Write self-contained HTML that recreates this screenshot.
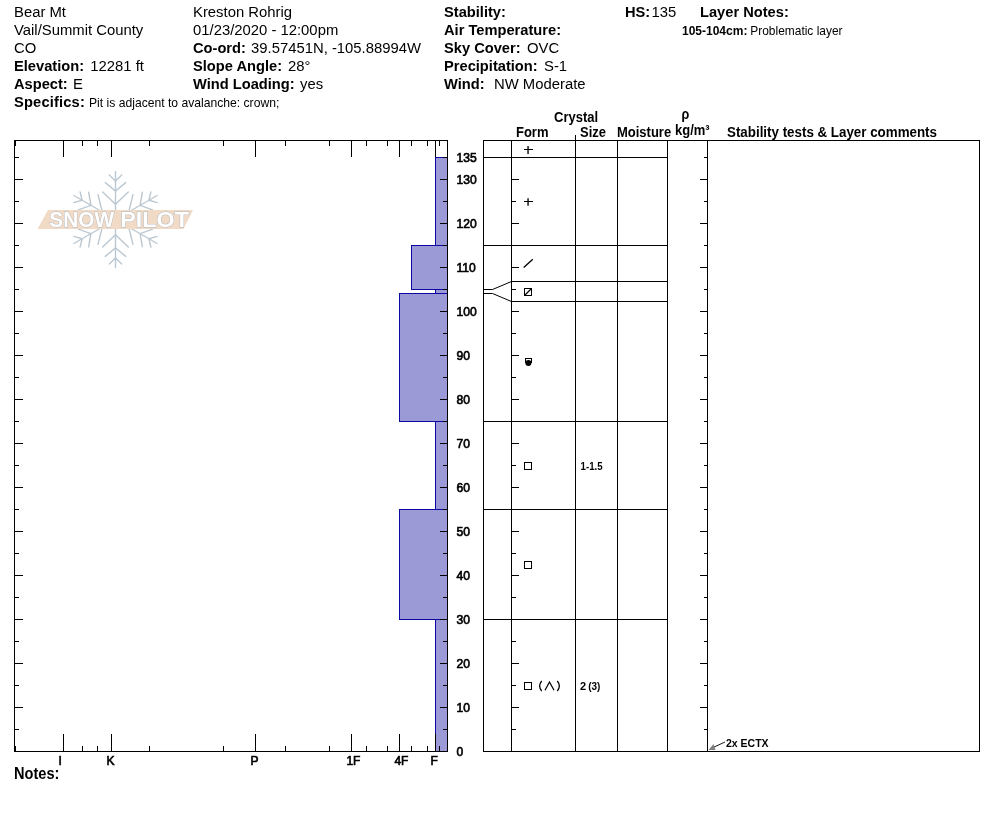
<!DOCTYPE html>
<html><head><meta charset="utf-8"><title>Snow Pit Profile</title>
<style>
html,body{margin:0;padding:0;background:#fff;}
body{width:994px;height:840px;overflow:hidden;position:relative;font-family:"Liberation Sans",sans-serif;color:#000;}
svg{position:absolute;left:0;top:0;display:block;will-change:transform;}
text{font-family:"Liberation Sans",sans-serif;fill:#000;}
.h{font-size:14.85px;}
.b{font-weight:bold;}
.h .b{font-size:14.67px;}
.ax{font-size:14px;font-weight:bold;}
.axl{font-size:13.6px;stroke:#000;stroke-width:0.7px;}
.sm{font-size:11px;}
.n12{font-size:12px;}
.nt{font-size:15.6px;}
.ln{stroke:#000;stroke-width:1;shape-rendering:crispEdges;fill:none;}
</style></head><body>
<svg width="994" height="840" viewBox="0 0 994 840">
<rect x="0" y="0" width="994" height="840" fill="#fff"/>
<text x="14" y="17" class="h" >Bear Mt</text>
<text x="14" y="35" class="h" >Vail/Summit County</text>
<text x="14" y="53" class="h" >CO</text>
<text x="14" y="71" class="h" ><tspan class="b">Elevation:</tspan><tspan x="90.3">12281 ft</tspan></text>
<text x="14" y="89" class="h" ><tspan class="b">Aspect:</tspan><tspan x="73">E</tspan></text>
<text x="14" y="107" class="h" ><tspan class="b" style="letter-spacing:0.17px">Specifics:</tspan><tspan x="89" style="font-size:12.15px">Pit is adjacent to avalanche: crown;</tspan></text>
<text x="193" y="17" class="h" >Kreston Rohrig</text>
<text x="193" y="35" class="h" >01/23/2020 - 12:00pm</text>
<text x="193" y="53" class="h" ><tspan class="b">Co-ord:</tspan><tspan x="251">39.57451N, -105.88994W</tspan></text>
<text x="193" y="71" class="h" ><tspan class="b">Slope Angle:</tspan><tspan x="288">28°</tspan></text>
<text x="193" y="89" class="h" ><tspan class="b">Wind Loading:</tspan><tspan x="300">yes</tspan></text>
<text x="444" y="17" class="h" ><tspan class="b">Stability:</tspan></text>
<text x="444" y="35" class="h" ><tspan class="b">Air Temperature:</tspan></text>
<text x="444" y="53" class="h" ><tspan class="b">Sky Cover:</tspan><tspan x="527">OVC</tspan></text>
<text x="444" y="71" class="h" ><tspan class="b">Precipitation:</tspan><tspan x="544">S-1</tspan></text>
<text x="444" y="89" class="h" ><tspan class="b">Wind:</tspan><tspan x="494">NW Moderate</tspan></text>
<text x="625" y="17" class="h" ><tspan class="b">HS:</tspan><tspan x="651.6">135</tspan></text>
<text x="700" y="17" class="h" ><tspan class="b">Layer Notes:</tspan></text>
<text x="682" y="35" class="n12" ><tspan class="b">105-104cm:</tspan><tspan x="750.3" style="font-size:11.95px">Problematic layer</tspan></text>
<text transform="translate(14 779) scale(0.935 1)" class="b nt">Notes:</text>
<g id="logo">
<g transform="translate(115.5 219.5) rotate(0)" stroke="#bcc8d1" stroke-width="1.4" stroke-linecap="round" fill="none"><line x1="0" y1="-6" x2="0" y2="-48"/><polyline points="-6.2,-44.5 0,-38.5 6.2,-44.5"/><polyline points="-10.2,-36.9 0,-28.4 10.2,-36.9"/><polyline points="-12.8,-27.6 0,-15.3 12.8,-27.6"/></g>
<g transform="translate(115.5 219.5) rotate(60)" stroke="#bcc8d1" stroke-width="1.4" stroke-linecap="round" fill="none"><line x1="0" y1="-6" x2="0" y2="-48"/><polyline points="-6.2,-44.5 0,-38.5 6.2,-44.5"/><polyline points="-10.2,-36.9 0,-28.4 10.2,-36.9"/><polyline points="-12.8,-27.6 0,-15.3 12.8,-27.6"/></g>
<g transform="translate(115.5 219.5) rotate(120)" stroke="#bcc8d1" stroke-width="1.4" stroke-linecap="round" fill="none"><line x1="0" y1="-6" x2="0" y2="-48"/><polyline points="-6.2,-44.5 0,-38.5 6.2,-44.5"/><polyline points="-10.2,-36.9 0,-28.4 10.2,-36.9"/><polyline points="-12.8,-27.6 0,-15.3 12.8,-27.6"/></g>
<g transform="translate(115.5 219.5) rotate(180)" stroke="#bcc8d1" stroke-width="1.4" stroke-linecap="round" fill="none"><line x1="0" y1="-6" x2="0" y2="-48"/><polyline points="-6.2,-44.5 0,-38.5 6.2,-44.5"/><polyline points="-10.2,-36.9 0,-28.4 10.2,-36.9"/><polyline points="-12.8,-27.6 0,-15.3 12.8,-27.6"/></g>
<g transform="translate(115.5 219.5) rotate(240)" stroke="#bcc8d1" stroke-width="1.4" stroke-linecap="round" fill="none"><line x1="0" y1="-6" x2="0" y2="-48"/><polyline points="-6.2,-44.5 0,-38.5 6.2,-44.5"/><polyline points="-10.2,-36.9 0,-28.4 10.2,-36.9"/><polyline points="-12.8,-27.6 0,-15.3 12.8,-27.6"/></g>
<g transform="translate(115.5 219.5) rotate(300)" stroke="#bcc8d1" stroke-width="1.4" stroke-linecap="round" fill="none"><line x1="0" y1="-6" x2="0" y2="-48"/><polyline points="-6.2,-44.5 0,-38.5 6.2,-44.5"/><polyline points="-10.2,-36.9 0,-28.4 10.2,-36.9"/><polyline points="-12.8,-27.6 0,-15.3 12.8,-27.6"/></g>
<polygon points="48,210 193,210 183.5,229 37.5,229" fill="#f1dac6"/>
<g style="font-size:22.3px;font-weight:bold;fill:#fff;stroke:#aeb6bf;stroke-width:0.9px;paint-order:stroke fill;"><text x="49.3" y="227.2" textLength="64.8" lengthAdjust="spacingAndGlyphs" style="fill:#fff">SNOW</text><text x="120.3" y="227.2" textLength="68.6" lengthAdjust="spacingAndGlyphs" style="fill:#fff">PILOT</text></g>
</g>
<rect x="435.5" y="157.5" width="12" height="88.0" fill="#9b9ad6" stroke="#0e08a2" stroke-width="1" shape-rendering="crispEdges"/>
<rect x="411.5" y="245.5" width="36" height="44.0" fill="#9b9ad6" stroke="#0e08a2" stroke-width="1" shape-rendering="crispEdges"/>
<rect x="435.5" y="289.5" width="12" height="4.4" fill="#9b9ad6" stroke="#0e08a2" stroke-width="1" shape-rendering="crispEdges"/>
<rect x="399.5" y="293.9" width="48" height="127.6" fill="#9b9ad6" stroke="#0e08a2" stroke-width="1" shape-rendering="crispEdges"/>
<rect x="435.5" y="421.5" width="12" height="88.0" fill="#9b9ad6" stroke="#0e08a2" stroke-width="1" shape-rendering="crispEdges"/>
<rect x="399.5" y="509.5" width="48" height="110.0" fill="#9b9ad6" stroke="#0e08a2" stroke-width="1" shape-rendering="crispEdges"/>
<rect x="435.5" y="619.5" width="12" height="132.0" fill="#9b9ad6" stroke="#0e08a2" stroke-width="1" shape-rendering="crispEdges"/>
<rect x="14.5" y="140.5" width="433" height="611" class="ln"/>
<line x1="15" y1="729.5" x2="19" y2="729.5" class="ln"/>
<line x1="443" y1="729.5" x2="447" y2="729.5" class="ln"/>
<line x1="15" y1="707.5" x2="23" y2="707.5" class="ln"/>
<line x1="440" y1="707.5" x2="447" y2="707.5" class="ln"/>
<line x1="15" y1="685.5" x2="19" y2="685.5" class="ln"/>
<line x1="443" y1="685.5" x2="447" y2="685.5" class="ln"/>
<line x1="15" y1="663.5" x2="23" y2="663.5" class="ln"/>
<line x1="440" y1="663.5" x2="447" y2="663.5" class="ln"/>
<line x1="15" y1="641.5" x2="19" y2="641.5" class="ln"/>
<line x1="443" y1="641.5" x2="447" y2="641.5" class="ln"/>
<line x1="15" y1="619.5" x2="23" y2="619.5" class="ln"/>
<line x1="440" y1="619.5" x2="447" y2="619.5" class="ln"/>
<line x1="15" y1="597.5" x2="19" y2="597.5" class="ln"/>
<line x1="443" y1="597.5" x2="447" y2="597.5" class="ln"/>
<line x1="15" y1="575.5" x2="23" y2="575.5" class="ln"/>
<line x1="440" y1="575.5" x2="447" y2="575.5" class="ln"/>
<line x1="15" y1="553.5" x2="19" y2="553.5" class="ln"/>
<line x1="443" y1="553.5" x2="447" y2="553.5" class="ln"/>
<line x1="15" y1="531.5" x2="23" y2="531.5" class="ln"/>
<line x1="440" y1="531.5" x2="447" y2="531.5" class="ln"/>
<line x1="15" y1="509.5" x2="19" y2="509.5" class="ln"/>
<line x1="443" y1="509.5" x2="447" y2="509.5" class="ln"/>
<line x1="15" y1="487.5" x2="23" y2="487.5" class="ln"/>
<line x1="440" y1="487.5" x2="447" y2="487.5" class="ln"/>
<line x1="15" y1="465.5" x2="19" y2="465.5" class="ln"/>
<line x1="443" y1="465.5" x2="447" y2="465.5" class="ln"/>
<line x1="15" y1="443.5" x2="23" y2="443.5" class="ln"/>
<line x1="440" y1="443.5" x2="447" y2="443.5" class="ln"/>
<line x1="15" y1="421.5" x2="19" y2="421.5" class="ln"/>
<line x1="443" y1="421.5" x2="447" y2="421.5" class="ln"/>
<line x1="15" y1="399.5" x2="23" y2="399.5" class="ln"/>
<line x1="440" y1="399.5" x2="447" y2="399.5" class="ln"/>
<line x1="15" y1="377.5" x2="19" y2="377.5" class="ln"/>
<line x1="443" y1="377.5" x2="447" y2="377.5" class="ln"/>
<line x1="15" y1="355.5" x2="23" y2="355.5" class="ln"/>
<line x1="440" y1="355.5" x2="447" y2="355.5" class="ln"/>
<line x1="15" y1="333.5" x2="19" y2="333.5" class="ln"/>
<line x1="443" y1="333.5" x2="447" y2="333.5" class="ln"/>
<line x1="15" y1="311.5" x2="23" y2="311.5" class="ln"/>
<line x1="440" y1="311.5" x2="447" y2="311.5" class="ln"/>
<line x1="15" y1="289.5" x2="19" y2="289.5" class="ln"/>
<line x1="443" y1="289.5" x2="447" y2="289.5" class="ln"/>
<line x1="15" y1="267.5" x2="23" y2="267.5" class="ln"/>
<line x1="440" y1="267.5" x2="447" y2="267.5" class="ln"/>
<line x1="15" y1="245.5" x2="19" y2="245.5" class="ln"/>
<line x1="443" y1="245.5" x2="447" y2="245.5" class="ln"/>
<line x1="15" y1="223.5" x2="23" y2="223.5" class="ln"/>
<line x1="440" y1="223.5" x2="447" y2="223.5" class="ln"/>
<line x1="15" y1="201.5" x2="19" y2="201.5" class="ln"/>
<line x1="443" y1="201.5" x2="447" y2="201.5" class="ln"/>
<line x1="15" y1="179.5" x2="23" y2="179.5" class="ln"/>
<line x1="440" y1="179.5" x2="447" y2="179.5" class="ln"/>
<line x1="15" y1="157.5" x2="19" y2="157.5" class="ln"/>
<line x1="443" y1="157.5" x2="447" y2="157.5" class="ln"/>
<line x1="15.5" y1="141" x2="15.5" y2="146" class="ln"/>
<line x1="15.5" y1="746" x2="15.5" y2="751" class="ln"/>
<line x1="63.5" y1="141" x2="63.5" y2="157" class="ln"/>
<line x1="63.5" y1="734" x2="63.5" y2="751" class="ln"/>
<line x1="111.5" y1="141" x2="111.5" y2="157" class="ln"/>
<line x1="111.5" y1="734" x2="111.5" y2="751" class="ln"/>
<line x1="255.5" y1="141" x2="255.5" y2="157" class="ln"/>
<line x1="255.5" y1="734" x2="255.5" y2="751" class="ln"/>
<line x1="351.5" y1="141" x2="351.5" y2="157" class="ln"/>
<line x1="351.5" y1="734" x2="351.5" y2="751" class="ln"/>
<line x1="399.5" y1="141" x2="399.5" y2="157" class="ln"/>
<line x1="399.5" y1="734" x2="399.5" y2="751" class="ln"/>
<line x1="435.5" y1="141" x2="435.5" y2="157" class="ln"/>
<line x1="435.5" y1="734" x2="435.5" y2="751" class="ln"/>
<line x1="82.5" y1="141" x2="82.5" y2="146" class="ln"/>
<line x1="82.5" y1="746" x2="82.5" y2="751" class="ln"/>
<line x1="97.5" y1="141" x2="97.5" y2="146" class="ln"/>
<line x1="97.5" y1="746" x2="97.5" y2="751" class="ln"/>
<line x1="149.5" y1="141" x2="149.5" y2="146" class="ln"/>
<line x1="149.5" y1="746" x2="149.5" y2="751" class="ln"/>
<line x1="223.5" y1="141" x2="223.5" y2="146" class="ln"/>
<line x1="223.5" y1="746" x2="223.5" y2="751" class="ln"/>
<line x1="285.5" y1="141" x2="285.5" y2="146" class="ln"/>
<line x1="285.5" y1="746" x2="285.5" y2="751" class="ln"/>
<line x1="329.5" y1="141" x2="329.5" y2="146" class="ln"/>
<line x1="329.5" y1="746" x2="329.5" y2="751" class="ln"/>
<line x1="366.5" y1="141" x2="366.5" y2="146" class="ln"/>
<line x1="366.5" y1="746" x2="366.5" y2="751" class="ln"/>
<line x1="387.5" y1="141" x2="387.5" y2="146" class="ln"/>
<line x1="387.5" y1="746" x2="387.5" y2="751" class="ln"/>
<line x1="411.5" y1="141" x2="411.5" y2="146" class="ln"/>
<line x1="411.5" y1="746" x2="411.5" y2="751" class="ln"/>
<line x1="427.5" y1="141" x2="427.5" y2="146" class="ln"/>
<line x1="427.5" y1="746" x2="427.5" y2="751" class="ln"/>
<line x1="439.5" y1="141" x2="439.5" y2="146" class="ln"/>
<line x1="439.5" y1="746" x2="439.5" y2="751" class="ln"/>
<text transform="translate(58.4 765) scale(0.885 1)" class="axl">I</text>
<text transform="translate(106.4 765) scale(0.885 1)" class="axl">K</text>
<text transform="translate(250.4 765) scale(0.885 1)" class="axl">P</text>
<text transform="translate(346.4 765) scale(0.885 1)" class="axl">1F</text>
<text transform="translate(394.4 765) scale(0.885 1)" class="axl">4F</text>
<text transform="translate(430.4 765) scale(0.885 1)" class="axl">F</text>
<text transform="translate(456.5 756) scale(0.89 1)" class="axl">0</text>
<text transform="translate(456.5 712) scale(0.89 1)" class="axl">10</text>
<text transform="translate(456.5 668) scale(0.89 1)" class="axl">20</text>
<text transform="translate(456.5 624) scale(0.89 1)" class="axl">30</text>
<text transform="translate(456.5 580) scale(0.89 1)" class="axl">40</text>
<text transform="translate(456.5 536) scale(0.89 1)" class="axl">50</text>
<text transform="translate(456.5 492) scale(0.89 1)" class="axl">60</text>
<text transform="translate(456.5 448) scale(0.89 1)" class="axl">70</text>
<text transform="translate(456.5 404) scale(0.89 1)" class="axl">80</text>
<text transform="translate(456.5 360) scale(0.89 1)" class="axl">90</text>
<text transform="translate(456.5 316) scale(0.89 1)" class="axl">100</text>
<text transform="translate(456.5 272) scale(0.89 1)" class="axl">110</text>
<text transform="translate(456.5 228) scale(0.89 1)" class="axl">120</text>
<text transform="translate(456.5 184) scale(0.89 1)" class="axl">130</text>
<text transform="translate(456.5 162) scale(0.89 1)" class="axl">135</text>
<rect x="483.5" y="140.5" width="496" height="611" class="ln"/>
<line x1="511.5" y1="140" x2="511.5" y2="751" class="ln"/>
<line x1="575.5" y1="135" x2="575.5" y2="751" class="ln"/>
<line x1="617.5" y1="140" x2="617.5" y2="751" class="ln"/>
<line x1="667.5" y1="140" x2="667.5" y2="751" class="ln"/>
<line x1="707.5" y1="140" x2="707.5" y2="751" class="ln"/>
<line x1="483" y1="157.5" x2="667" y2="157.5" class="ln"/>
<line x1="483" y1="245.5" x2="667" y2="245.5" class="ln"/>
<line x1="511" y1="281.5" x2="667" y2="281.5" class="ln"/>
<line x1="511" y1="301.5" x2="667" y2="301.5" class="ln"/>
<line x1="483" y1="421.5" x2="667" y2="421.5" class="ln"/>
<line x1="483" y1="509.5" x2="667" y2="509.5" class="ln"/>
<line x1="483" y1="619.5" x2="667" y2="619.5" class="ln"/>
<polyline points="483.5,289.5 492.5,289.5 511.5,281.5" fill="none" stroke="#000" stroke-width="1"/>
<polyline points="483.5,293.5 492.5,293.5 511.5,301.5" fill="none" stroke="#000" stroke-width="1"/>
<line x1="512" y1="729.5" x2="516" y2="729.5" class="ln"/>
<line x1="704" y1="729.5" x2="707" y2="729.5" class="ln"/>
<line x1="512" y1="707.5" x2="519" y2="707.5" class="ln"/>
<line x1="700" y1="707.5" x2="707" y2="707.5" class="ln"/>
<line x1="512" y1="685.5" x2="516" y2="685.5" class="ln"/>
<line x1="704" y1="685.5" x2="707" y2="685.5" class="ln"/>
<line x1="512" y1="663.5" x2="519" y2="663.5" class="ln"/>
<line x1="700" y1="663.5" x2="707" y2="663.5" class="ln"/>
<line x1="512" y1="641.5" x2="516" y2="641.5" class="ln"/>
<line x1="704" y1="641.5" x2="707" y2="641.5" class="ln"/>
<line x1="512" y1="619.5" x2="519" y2="619.5" class="ln"/>
<line x1="700" y1="619.5" x2="707" y2="619.5" class="ln"/>
<line x1="512" y1="597.5" x2="516" y2="597.5" class="ln"/>
<line x1="704" y1="597.5" x2="707" y2="597.5" class="ln"/>
<line x1="512" y1="575.5" x2="519" y2="575.5" class="ln"/>
<line x1="700" y1="575.5" x2="707" y2="575.5" class="ln"/>
<line x1="512" y1="553.5" x2="516" y2="553.5" class="ln"/>
<line x1="704" y1="553.5" x2="707" y2="553.5" class="ln"/>
<line x1="512" y1="531.5" x2="519" y2="531.5" class="ln"/>
<line x1="700" y1="531.5" x2="707" y2="531.5" class="ln"/>
<line x1="512" y1="509.5" x2="516" y2="509.5" class="ln"/>
<line x1="704" y1="509.5" x2="707" y2="509.5" class="ln"/>
<line x1="512" y1="487.5" x2="519" y2="487.5" class="ln"/>
<line x1="700" y1="487.5" x2="707" y2="487.5" class="ln"/>
<line x1="512" y1="465.5" x2="516" y2="465.5" class="ln"/>
<line x1="704" y1="465.5" x2="707" y2="465.5" class="ln"/>
<line x1="512" y1="443.5" x2="519" y2="443.5" class="ln"/>
<line x1="700" y1="443.5" x2="707" y2="443.5" class="ln"/>
<line x1="512" y1="421.5" x2="516" y2="421.5" class="ln"/>
<line x1="704" y1="421.5" x2="707" y2="421.5" class="ln"/>
<line x1="512" y1="399.5" x2="519" y2="399.5" class="ln"/>
<line x1="700" y1="399.5" x2="707" y2="399.5" class="ln"/>
<line x1="512" y1="377.5" x2="516" y2="377.5" class="ln"/>
<line x1="704" y1="377.5" x2="707" y2="377.5" class="ln"/>
<line x1="512" y1="355.5" x2="519" y2="355.5" class="ln"/>
<line x1="700" y1="355.5" x2="707" y2="355.5" class="ln"/>
<line x1="512" y1="333.5" x2="516" y2="333.5" class="ln"/>
<line x1="704" y1="333.5" x2="707" y2="333.5" class="ln"/>
<line x1="512" y1="311.5" x2="519" y2="311.5" class="ln"/>
<line x1="700" y1="311.5" x2="707" y2="311.5" class="ln"/>
<line x1="512" y1="289.5" x2="516" y2="289.5" class="ln"/>
<line x1="704" y1="289.5" x2="707" y2="289.5" class="ln"/>
<line x1="512" y1="267.5" x2="519" y2="267.5" class="ln"/>
<line x1="700" y1="267.5" x2="707" y2="267.5" class="ln"/>
<line x1="512" y1="245.5" x2="516" y2="245.5" class="ln"/>
<line x1="704" y1="245.5" x2="707" y2="245.5" class="ln"/>
<line x1="512" y1="223.5" x2="519" y2="223.5" class="ln"/>
<line x1="700" y1="223.5" x2="707" y2="223.5" class="ln"/>
<line x1="512" y1="201.5" x2="516" y2="201.5" class="ln"/>
<line x1="704" y1="201.5" x2="707" y2="201.5" class="ln"/>
<line x1="512" y1="179.5" x2="519" y2="179.5" class="ln"/>
<line x1="700" y1="179.5" x2="707" y2="179.5" class="ln"/>
<line x1="512" y1="157.5" x2="516" y2="157.5" class="ln"/>
<line x1="704" y1="157.5" x2="707" y2="157.5" class="ln"/>
<text transform="translate(554 122) scale(0.93 1)" class="ax">Crystal</text>
<text transform="translate(516 137) scale(0.929 1)" class="ax">Form</text>
<text transform="translate(580 137) scale(0.929 1)" class="ax">Size</text>
<text transform="translate(617 137) scale(0.929 1)" class="ax">Moisture</text>
<text transform="translate(681.4 118.6) scale(0.9 1)" class="ax">ρ</text>
<text transform="translate(675 135) scale(0.929 1)" class="ax">kg/m³</text>
<text transform="translate(727 137) scale(0.9545 1)" class="ax">Stability tests &amp; Layer comments</text>
<path d="M524 149.5H532.5" class="ln"/><path d="M528.05 146.1V153.9" stroke="#000" stroke-width="1.35" fill="none"/>
<path d="M524 201.5H532.5" class="ln"/><path d="M528.05 198.2V205.8" stroke="#000" stroke-width="1.35" fill="none"/>
<line x1="523.7" y1="267.6" x2="532.8" y2="259.2" stroke="#000" stroke-width="1.3"/>
<rect x="524.5" y="288.5" width="7" height="7" class="ln"/>
<line x1="524.5" y1="295.5" x2="531.5" y2="288.5" stroke="#000" stroke-width="1.3"/>
<path d="M525.5 363V358.5H531.5V363" class="ln"/><circle cx="528.4" cy="362.9" r="3" fill="#000"/>
<rect x="524.5" y="462.5" width="7" height="7" class="ln"/>
<rect x="524.5" y="561.5" width="7" height="7" class="ln"/>
<rect x="524.5" y="682.5" width="7" height="7" class="ln"/>
<path d="M541.7 681 Q537.6 686 541.7 691 M557.3 681 Q561.4 686 557.3 691 M545 690.3 L549.5 682 L554 690.3" fill="none" stroke="#000" stroke-width="1.25"/>
<text transform="translate(580.6 470) scale(0.88 1)" class="sm b">1-1.5</text>
<text x="580" y="690" class="sm b" >2<tspan dx="2" style="font-size:10px">(3)</tspan></text>
<line x1="725" y1="742" x2="712" y2="748" stroke="#000" stroke-width="0.9"/>
<polygon points="708.5,750 713.5,744 715.5,750" fill="#808080"/>
<text x="726" y="747" class="sm b" style="font-size:10.5px">2x ECTX</text>
</svg></body></html>
